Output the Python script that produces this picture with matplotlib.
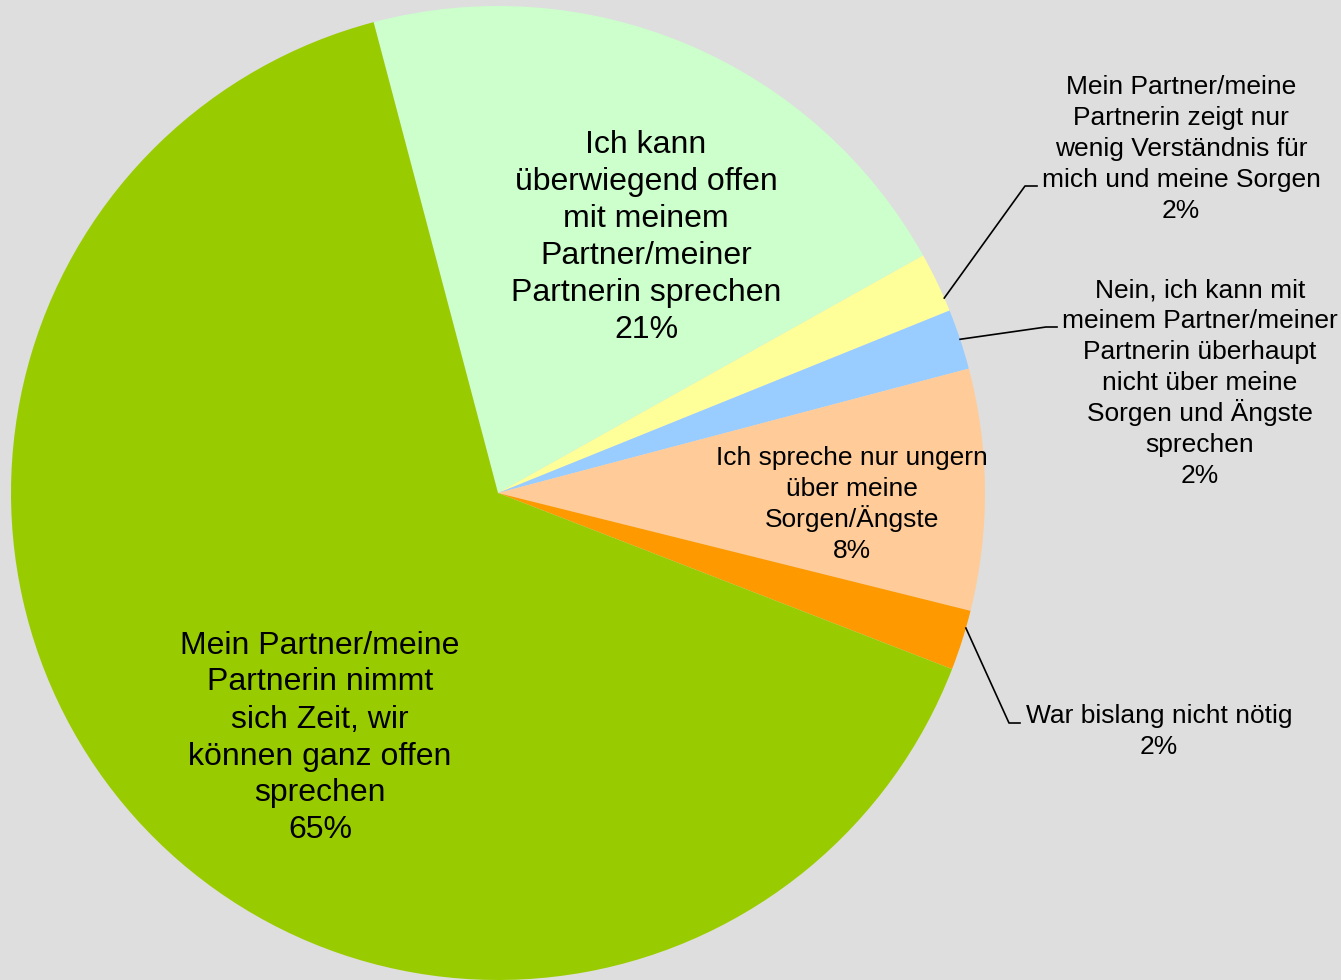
import numpy as np
import matplotlib.pyplot as plt

plt.rcParams['font.family'] = ['Liberation Sans', 'DejaVu Sans']

# Antworten und Anteile in Prozent (im Uhrzeigersinn)
labels = [
    "Ich kann\nüberwiegend offen\nmit meinem\nPartner/meiner\nPartnerin sprechen",
    "Mein Partner/meine\nPartnerin zeigt nur\nwenig Verständnis für\nmich und meine Sorgen",
    "Nein, ich kann mit\nmeinem Partner/meiner\nPartnerin überhaupt\nnicht über meine\nSorgen und Ängste\nsprechen",
    "Ich spreche nur ungern\nüber meine\nSorgen/Ängste",
    "War bislang nicht nötig",
    "Mein Partner/meine\nPartnerin nimmt\nsich Zeit, wir\nkönnen ganz offen\nsprechen",
]
values = [21, 2, 2, 8, 2, 65]
colors = ["#CCFFCC", "#FFFF99", "#99CCFF", "#FFCC99", "#FF9900", "#99CC00"]

W, H = 1341, 980
cx, cy, r = 498, 487, 487
bg = "#DEDEDE"

fig = plt.figure(figsize=(W / 100, H / 100), dpi=100, facecolor=bg)
ax = fig.add_axes([0, 0, 1, 1])
ax.set_facecolor(bg)

wedges, _ = ax.pie(values, colors=colors, startangle=104.8, counterclock=False,
                   center=(cx, cy), radius=r, wedgeprops=dict(linewidth=0))
ax.set_xlim(0, W)
ax.set_ylim(0, H)
ax.set_aspect("equal")
ax.axis("off")


def draw_label(i, x, y_top, fs, step):
    # jede Zeile einzeln, damit Umlaute den Zeilenabstand nicht verschieben
    lines = labels[i].split("\n") + [f"{values[i]}%"]
    px = fs * 100 / 72
    for k, line in enumerate(lines):
        y = H - (y_top + k * step) - 0.36 * px
        ax.text(x, y, line, ha="center", va="baseline", fontsize=fs, color="black")


# Beschriftungen innerhalb der Segmente
draw_label(0, 646, 142, 23, 36.8)
draw_label(3, 852, 456, 19, 30.7)
draw_label(5, 320, 642, 23, 37)

# Beschriftungen außerhalb mit Führungslinien: Textposition, Knick, Linienende
outside = {
    1: ((1181, 85), (1025, 794), (1037, 794), -2),
    2: ((1200, 288), (1046, 653), (1057, 653), 0),
    4: ((1159, 714), (1009, 257), (1020, 257), 1.5),
}
for i, ((tx, ty), elbow, end, shift) in outside.items():
    w = wedges[i]
    ang = np.deg2rad((w.theta1 + w.theta2) / 2 + shift)
    sx, sy = cx + r * np.cos(ang), cy + r * np.sin(ang)
    ax.plot([sx, elbow[0], end[0]], [sy, elbow[1], end[1]], color="black", lw=1.2)
    draw_label(i, tx, ty, 19, 30.9)

fig.savefig("out.png", dpi=100, facecolor=bg)
